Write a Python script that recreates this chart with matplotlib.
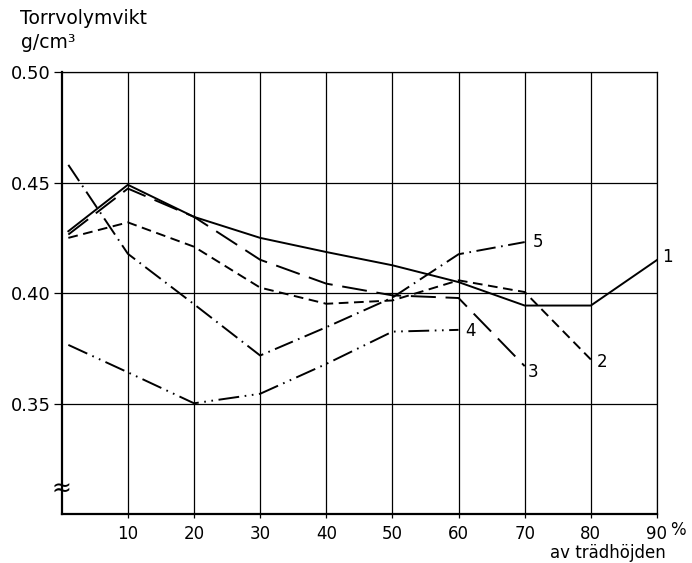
import numpy as np
import matplotlib
matplotlib.use("Agg")
import matplotlib.pyplot as plt

plt.rcParams['font.family'] = ['DejaVu Sans']
plt.rcParams['lines.scale_dashes'] = False

# torrvolymvikt längs stammen, fem träd
hojd = [1, 10, 20, 30, 40, 50, 60, 70, 80, 90]
trad1 = [0.428, 0.449, 0.4345, 0.425, 0.4186, 0.4126, 0.405, 0.3944, 0.3944, 0.415]
trad2 = [0.425, 0.432, 0.421, 0.4025, 0.3952, 0.3967, 0.4058, 0.4005, 0.370]
trad3 = [0.4265, 0.4473, 0.4345, 0.4151, 0.4043, 0.399, 0.3978, 0.367]
trad4 = [0.3766, 0.3642, 0.3502, 0.3545, 0.368, 0.3826, 0.3834]
trad5 = [0.458, 0.4178, 0.395, 0.3718, 0.3846, 0.398, 0.4176, 0.4231]

xticks = [10, 20, 30, 40, 50, 60, 70, 80, 90]
yticks = [0.35, 0.40, 0.45, 0.50]
ytick_labels = ['0.35', '0.40', '0.45', '0.50']

fig = plt.figure(figsize=(6.92, 5.63), dpi=100)
ax = fig.add_axes([0.0892, 0.0865, 0.8602, 0.7856])

ax.set_xlim(0, 90)
ax.set_ylim(0.30, 0.50)

for x in xticks:
    ax.axvline(x, color='black', lw=0.9, zorder=1)
for y in yticks:
    ax.axhline(y, color='black', lw=0.9, zorder=1)

lw = 1.4
serier = [
    (trad1, '1', (None,)),
    (trad2, '2', (7, 4)),
    (trad3, '3', (18, 7)),
    (trad4, '4', (15, 4, 1.2, 4, 1.2, 4)),
    (trad5, '5', (14, 4, 1.2, 4)),
]
for vals, namn, dash in serier:
    xs = hojd[:len(vals)]
    if dash == (None,):
        ax.plot(xs, vals, color='black', lw=lw, solid_joinstyle='miter', zorder=3)
    else:
        ax.plot(xs, vals, color='black', lw=lw, dashes=dash, zorder=3)

etiketter = {'1': (4, 2), '2': (4, -2), '3': (2, -4), '4': (5, -1), '5': (6, 0)}
for vals, namn, dash in serier:
    dx, dy = etiketter[namn]
    ax.annotate(namn, (hojd[len(vals) - 1], vals[-1]), xytext=(dx, dy),
                textcoords='offset points', ha='left', va='center', fontsize=12)

for side in ['top', 'right']:
    ax.spines[side].set_linewidth(0.9)
for side in ['left', 'bottom']:
    ax.spines[side].set_linewidth(1.6)

ax.set_xticks(xticks)
ax.set_xticklabels([str(x) for x in xticks], fontsize=12)
ax.set_yticks(yticks)
ax.set_yticklabels(ytick_labels, fontsize=13)
ax.tick_params(axis='x', length=3, width=0.9, pad=5)
ax.tick_params(axis='y', length=6, width=0.9, pad=2)

# brytningstecken på y-axeln
ax.text(0, 0.3115, '≈', transform=ax.get_yaxis_transform(), ha='center', va='center',
        fontsize=17, zorder=5)

ax.text(1.022, -0.036, '%', transform=ax.transAxes, ha='left', va='center', fontsize=12)
fig.text(0.879, 0.017, 'av trädhöjden', ha='center', va='center', fontsize=12)

fig.text(0.029, 0.968, 'Torrvolymvikt', ha='left', va='center', fontsize=13.5)
fig.text(0.031, 0.925, 'g/cm³', ha='left', va='center', fontsize=13.5)

fig.savefig('out.png', dpi=100)
